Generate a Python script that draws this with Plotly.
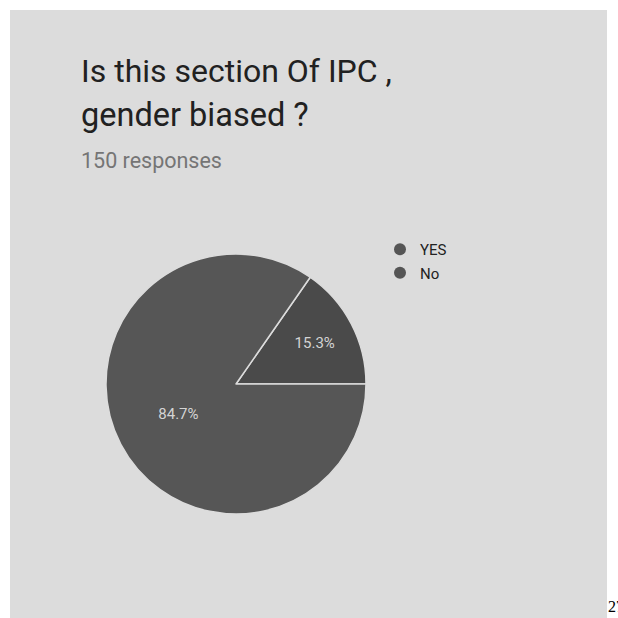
import plotly.graph_objects as go

W = H = 618

categories = ["YES", "No"]
counts = [23, 127]
slice_colors = ["#4a4a4a", "#565656"]
legend_colors = ["#555555", "#555555"]

title_lines = ["Is this section Of IPC ,", "gender biased ?"]
subtitle = "150 responses"
page_mark = "27"

def px(x):
    return x / W

def py(y):
    return 1 - y / H

# first slice begins at 3 o'clock and runs counterclockwise
first_share = counts[0] / sum(counts)
rotation = 90 - 360 * first_share

fig = go.Figure()

fig.add_trace(go.Pie(
    labels=categories,
    values=counts,
    sort=False,
    direction="counterclockwise",
    rotation=rotation,
    marker=dict(colors=slice_colors, line=dict(color="#dcdcdc", width=1.5)),
    textinfo="percent",
    texttemplate="%{percent:.1%}",
    textposition="inside",
    insidetextorientation="horizontal",
    textfont=dict(family="Roboto", size=15, color="#d4d4d4"),
    domain=dict(x=[px(106), px(366)], y=[py(514), py(254)]),
    showlegend=False,
    hoverinfo="label+percent",
))

for i, (name, col) in enumerate(zip(categories, legend_colors)):
    fig.add_trace(go.Scatter(
        x=[None], y=[None], mode="markers", name=name,
        marker=dict(symbol="circle", size=16, color=col),
        legendgroup=name, showlegend=True,
    ))

annotations = []
annotations.append(dict(text=title_lines[0], x=px(79), y=py(70.5), xanchor="left", yanchor="middle",
                        font=dict(family="Roboto", size=32, color="#212121")))
annotations.append(dict(text=title_lines[1], x=px(79), y=py(115), xanchor="left", yanchor="middle",
                        font=dict(family="Roboto", size=32.5, color="#212121")))
annotations.append(dict(text=subtitle, x=px(79), y=py(160), xanchor="left", yanchor="middle",
                        font=dict(family="Roboto", size=21.5, color="#757575")))
annotations.append(dict(text=page_mark, x=px(606), y=py(606), xanchor="left", yanchor="middle",
                        font=dict(family="Liberation Serif", size=16, color="#000000")))
for a in annotations:
    a.update(xref="paper", yref="paper", showarrow=False)

fig.update_layout(
    width=W, height=H,
    margin=dict(l=0, r=0, t=0, b=0),
    paper_bgcolor="#ffffff",
    plot_bgcolor="#dcdcdc",
    xaxis=dict(domain=[px(10), px(607)], visible=False, showgrid=False, zeroline=False),
    yaxis=dict(domain=[0, py(10)], visible=False, showgrid=False, zeroline=False),
    legend=dict(x=px(380), y=py(233), xanchor="left", yanchor="top",
                bgcolor="rgba(0,0,0,0)", font=dict(family="Roboto", size=15, color="#222222"),
                tracegroupgap=1, itemsizing="constant"),
    annotations=annotations,
)

fig.write_html("out.html")
